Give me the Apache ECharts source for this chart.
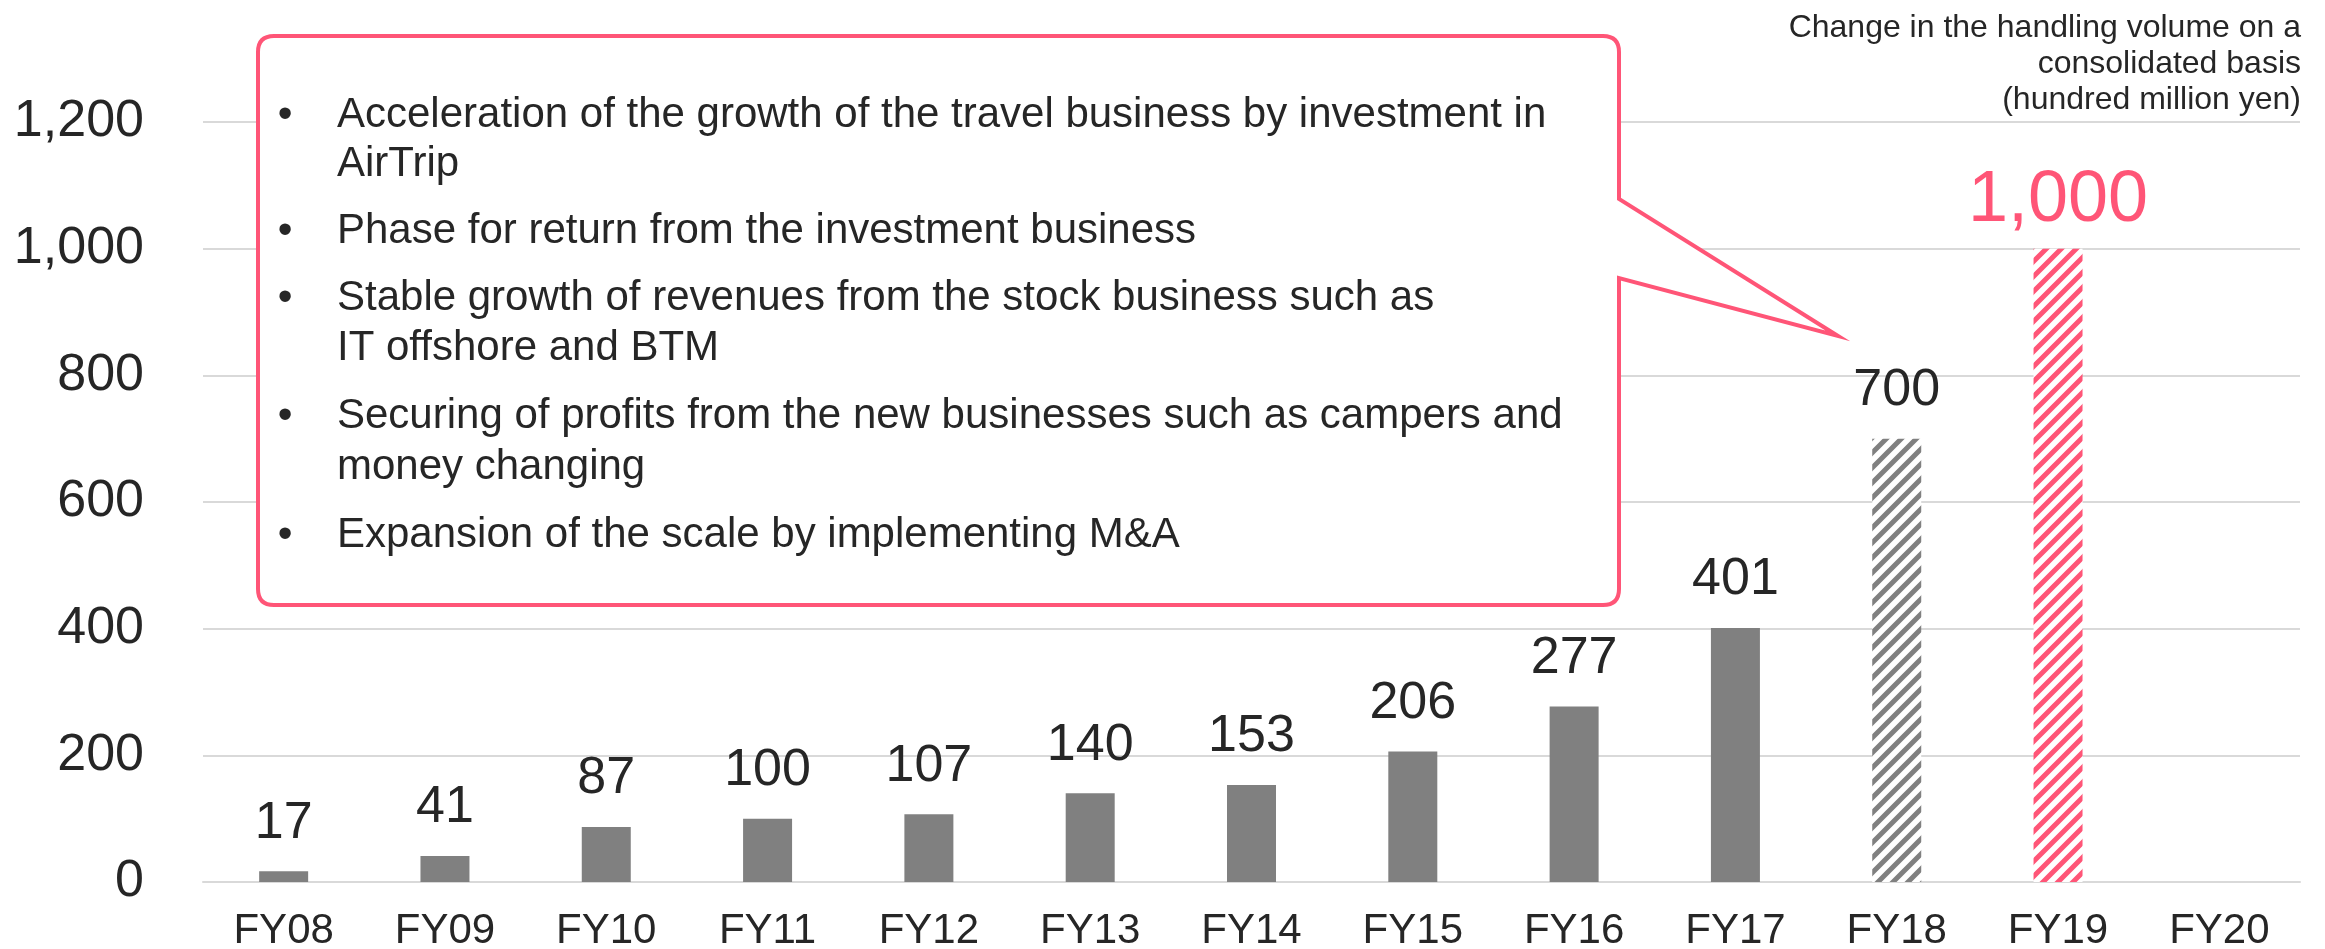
<!DOCTYPE html>
<html>
<head>
<meta charset="utf-8">
<script src="https://cdn.jsdelivr.net/npm/echarts@6/dist/echarts.min.js"></script>
<style>
  html, body { margin: 0; padding: 0; background: #fff; }
  #chart { width: 2325px; height: 949px; }
</style>
</head>
<body>
<div id="chart"></div>
<script>
// data
var categories = ["FY08", "FY09", "FY10", "FY11", "FY12", "FY13", "FY14", "FY15", "FY16", "FY17", "FY18", "FY19", "FY20"];
var values = [17, 41, 87, 100, 107, 140, 153, 206, 277, 401, 700, 1000, null];
var planYears = ["FY18"];     // grey hatched
var targetYears = ["FY19"];   // pink hatched
var yTicks = [0, 200, 400, 600, 800, 1000, 1200];
var unitLines = ["Change in the handling volume on a", "consolidated basis", "(hundred million yen)"];
var calloutItems = [
  ["Acceleration of the growth of the travel business by investment in", "AirTrip"],
  ["Phase for return from the investment business"],
  ["Stable growth of revenues from the stock business such as", "IT offshore and BTM"],
  ["Securing of profits from the new businesses such as campers and", "money changing"],
  ["Expansion of the scale by implementing M&A"]
];

var FONT = "'Liberation Sans', Arial, sans-serif";
var TXT = "#262626";
var GREY = "#808080";
var PINK = "#FF5577";

function fmt(v) { return Number(v).toLocaleString("en-US"); }

function stripes(color) {
  var p = 15;
  var c = document.createElement("canvas");
  c.width = p; c.height = p;
  var ctx = c.getContext("2d");
  ctx.fillStyle = "#fff";
  ctx.fillRect(0, 0, p, p);
  ctx.strokeStyle = color;
  ctx.lineWidth = 5;
  ctx.beginPath();
  ctx.moveTo(-p / 2, p / 2); ctx.lineTo(p / 2, -p / 2);
  ctx.moveTo(0, p); ctx.lineTo(p, 0);
  ctx.moveTo(p / 2, p * 1.5); ctx.lineTo(p * 1.5, p / 2);
  ctx.stroke();
  return c;
}
var greyHatch = { image: stripes(GREY), repeat: "repeat" };
var pinkHatch = { image: stripes(PINK), repeat: "repeat" };

var barData = [];
for (var i = 0; i < categories.length; i++) {
  var item = { value: values[i] == null ? "-" : values[i] };
  if (planYears.indexOf(categories[i]) >= 0) {
    item.itemStyle = { color: greyHatch };
  } else if (targetYears.indexOf(categories[i]) >= 0) {
    item.itemStyle = { color: pinkHatch };
    item.label = { color: PINK, fontSize: 72, distance: 12 };
  }
  barData.push(item);
}

// callout box (rounded rect with a pointer on the right side)
var CalloutShape = echarts.graphic.extendShape({
  shape: { x0: 0, y0: 0, x1: 0, y1: 0, r: 0, py0: 0, py1: 0, tx: 0, ty: 0 },
  buildPath: function (ctx, s) {
    ctx.moveTo(s.x0 + s.r, s.y0);
    ctx.lineTo(s.x1 - s.r, s.y0);
    ctx.quadraticCurveTo(s.x1, s.y0, s.x1, s.y0 + s.r);
    ctx.lineTo(s.x1, s.py0);
    ctx.lineTo(s.tx, s.ty);
    ctx.lineTo(s.x1, s.py1);
    ctx.lineTo(s.x1, s.y1 - s.r);
    ctx.quadraticCurveTo(s.x1, s.y1, s.x1 - s.r, s.y1);
    ctx.lineTo(s.x0 + s.r, s.y1);
    ctx.quadraticCurveTo(s.x0, s.y1, s.x0, s.y1 - s.r);
    ctx.lineTo(s.x0, s.y0 + s.r);
    ctx.quadraticCurveTo(s.x0, s.y0, s.x0 + s.r, s.y0);
    ctx.closePath();
  }
});
echarts.graphic.registerShape("callout", CalloutShape);

var graphics = [{
  type: "callout",
  z: 100,
  shape: { x0: 258, y0: 36, x1: 1619, y1: 605, r: 16, py0: 199, py1: 278, tx: 1838, ty: 336 },
  style: { fill: "#fff", stroke: PINK, lineWidth: 4 }
}];

var lineY = [[115, 164], [231], [298, 348], [416, 467], [535]];
calloutItems.forEach(function (para, pi) {
  graphics.push({
    type: "text", z: 101,
    style: { text: "\u2022", x: 285, y: lineY[pi][0], align: "center", verticalAlign: "middle",
             font: "42px " + FONT, fill: TXT }
  });
  para.forEach(function (line, li) {
    graphics.push({
      type: "text", z: 101,
      style: { text: line, x: 337, y: lineY[pi][li], align: "left", verticalAlign: "middle",
               font: "42px " + FONT, fill: TXT }
    });
  });
});

unitLines.forEach(function (line, li) {
  graphics.push({
    type: "text", z: 101,
    style: { text: line, x: 2301, y: 28 + li * 36, align: "right", verticalAlign: "middle",
             font: "32px " + FONT, fill: TXT }
  });
});

var myChart = echarts.init(document.getElementById("chart"));
myChart.setOption({
  animation: false,
  textStyle: { fontFamily: FONT },
  grid: { left: 203, right: 25, top: 122, bottom: 67, containLabel: false, outerBoundsMode: "none" },
  xAxis: {
    type: "category",
    data: categories,
    axisLine: { lineStyle: { color: "#d9d9d9", width: 2 } },
    axisTick: { show: false },
    axisLabel: { color: TXT, fontSize: 42, margin: 28, interval: 0 }
  },
  yAxis: {
    type: "value",
    min: yTicks[0],
    max: yTicks[yTicks.length - 1],
    interval: 200,
    axisLine: { show: false },
    axisTick: { show: false },
    splitLine: { lineStyle: { color: "#d9d9d9", width: 2 } },
    axisLabel: { color: TXT, fontSize: 52, margin: 59, formatter: fmt }
  },
  series: [{
    type: "bar",
    data: barData,
    barWidth: 49,
    itemStyle: { color: GREY },
    label: {
      show: true, position: "top", distance: 22, color: TXT, fontSize: 52,
      formatter: function (p) { return fmt(p.value); }
    }
  }],
  graphic: graphics
});
</script>
</body>
</html>
